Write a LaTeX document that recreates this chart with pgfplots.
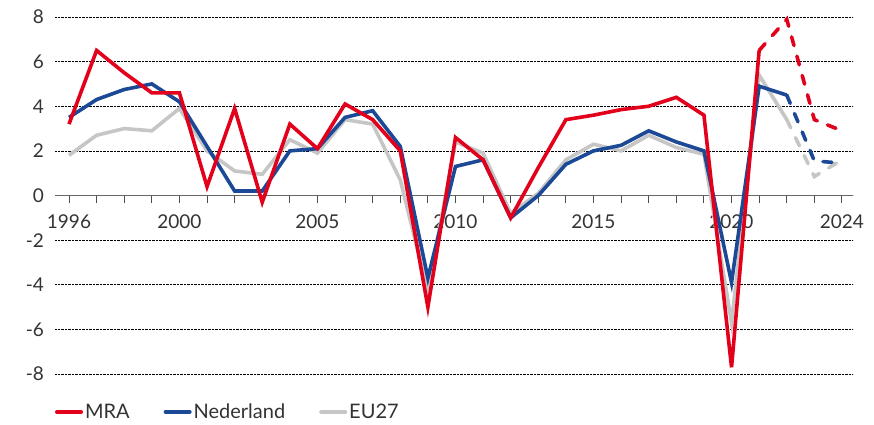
\documentclass[border=0pt]{standalone}
\usepackage{pgfplots}
\pgfplotsset{compat=1.18}
\usepackage{fontspec}
\setmainfont{Lato}
\definecolor{mra}{HTML}{E2001A}
\definecolor{nl}{HTML}{1C4996}
\definecolor{eu}{HTML}{C6C6C6}
\definecolor{txt}{HTML}{333333}
\begin{document}
\begin{tikzpicture}
\path[use as bounding box] (-55pt,-50pt) rectangle (819pt,374pt);
\begin{axis}[
  scale only axis, width=798pt, height=357pt,
  xmin=1995.493, xmax=2024.40, ymin=-8, ymax=8,
  axis x line=middle, axis y line=left,
  x axis line style={draw=black!60, line width=1.2pt, -},
  y axis line style={draw=none},
  xtick={1996,...,2024},
  xticklabels={1996,,,,2000,,,,,2005,,,,,2010,,,,,2015,,,,,2020,,,,2024},
  x tick style={draw=black!70, line width=0.8pt},
  xtick align=outside, major tick length=7pt,
  xticklabel style={yshift=-9pt, font=\fontsize{19}{21}\selectfont, text=txt},
  ytick={-8,-6,-4,-2,0,2,4,6,8},
  yticklabels={-8,-6,-4,-2,0,2,4,6,8},
  y tick style={draw=none},
  yticklabel style={xshift=-4pt, font=\fontsize{19}{21}\selectfont, text=txt},
  ymajorgrids, grid style={black, densely dotted, line width=0.7pt},
  clip=false,
  legend columns=3,
  legend style={at={(rel axis cs:-0.004,-0.106)}, anchor=west, draw=none, fill=none,
    font=\fontsize{20}{22}\selectfont, text=txt,
    /tikz/every even column/.append style={column sep=32pt}},
  legend image code/.code={\draw[#1, line width=4pt, line cap=round] (0pt,0pt) -- (24pt,0pt);},
  every axis plot/.append style={line width=3.6pt, no markers},
]
\addplot[eu, dash pattern=on 9pt off 11pt, line cap=round, forget plot] coordinates {(2022,3.4)(2023,0.85)(2024,1.6)};
\addplot[nl, dash pattern=on 9pt off 11pt, line cap=round, forget plot] coordinates {(2022,4.5)(2023,1.55)(2024,1.45)};
\addplot[mra, dash pattern=on 9pt off 11pt, line cap=round, forget plot] coordinates {(2021,6.5)(2022,7.9)(2023,3.4)(2024,2.9)};
\addlegendimage{mra}\addlegendentry{MRA}
\addlegendimage{nl}\addlegendentry{Nederland}
\addlegendimage{eu}\addlegendentry{EU27}
\addplot[eu, forget plot] coordinates {
(1996,1.8)(1997,2.7)(1998,3.0)(1999,2.9)(2000,3.9)(2001,2.0)(2002,1.1)(2003,0.95)
(2004,2.5)(2005,1.9)(2006,3.4)(2007,3.2)(2008,0.7)(2009,-4.3)(2010,2.4)(2011,1.9)
(2012,-0.8)(2013,0.1)(2014,1.6)(2015,2.3)(2016,2.0)(2017,2.7)(2018,2.15)(2019,1.85)
(2020,-5.7)(2021,5.4)(2022,3.4)};
\addplot[nl, forget plot] coordinates {
(1996,3.5)(1997,4.3)(1998,4.75)(1999,5.0)(2000,4.2)(2001,2.2)(2002,0.2)(2003,0.2)
(2004,2.0)(2005,2.1)(2006,3.5)(2007,3.8)(2008,2.2)(2009,-3.7)(2010,1.3)(2011,1.6)
(2012,-1.0)(2013,0.0)(2014,1.4)(2015,2.0)(2016,2.25)(2017,2.9)(2018,2.4)(2019,2.0)
(2020,-3.9)(2021,4.9)(2022,4.5)};
\addplot[mra, forget plot] coordinates {
(1996,3.2)(1997,6.5)(1998,5.5)(1999,4.6)(2000,4.6)(2001,0.4)(2002,3.9)(2003,-0.3)
(2004,3.2)(2005,2.1)(2006,4.1)(2007,3.4)(2008,2.0)(2009,-5.0)(2010,2.6)(2011,1.6)
(2012,-1.0)(2013,1.25)(2014,3.4)(2015,3.6)(2016,3.85)(2017,4.0)(2018,4.4)(2019,3.6)
(2020,-7.7)(2021,6.5)};
\end{axis}
\end{tikzpicture}
\end{document}
